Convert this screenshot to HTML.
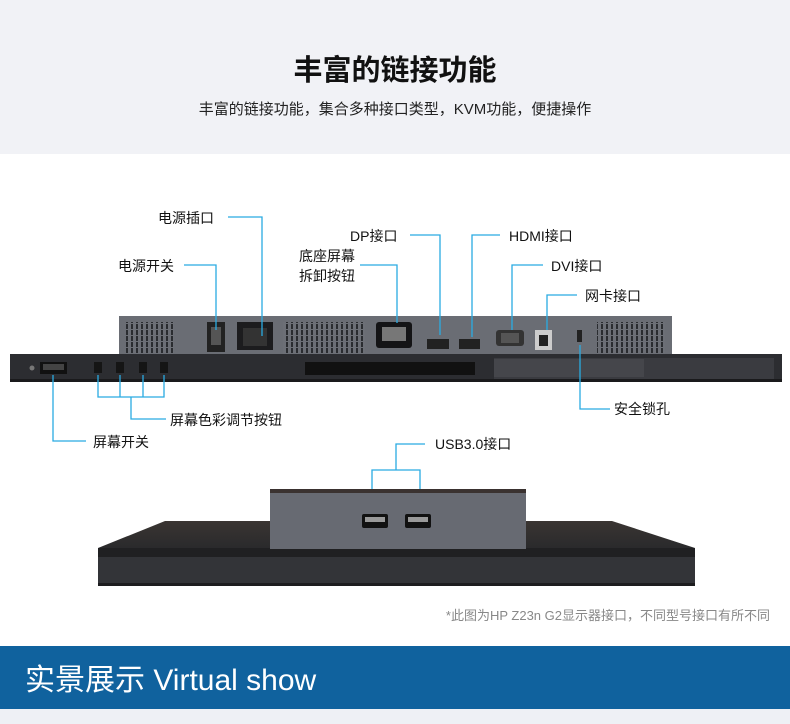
<!DOCTYPE html>
<html><head><meta charset="utf-8"><style>
html,body{margin:0;padding:0;background:#fff;}
body{width:790px;height:724px;overflow:hidden;position:relative;font-family:"Liberation Sans","Noto Sans CJK SC",sans-serif;}
</style></head><body>
<svg width="790" height="724" viewBox="0 0 790 724" xmlns="http://www.w3.org/2000/svg" style="position:absolute;left:0;top:0">
<defs>
<pattern id="vent" width="5" height="6" patternUnits="userSpaceOnUse"><rect width="5" height="6" fill="#6c6f76"/><rect x="1" y="0" width="2" height="5" fill="#2a2c30"/></pattern>
<linearGradient id="slab" x1="0" y1="0" x2="0" y2="1"><stop offset="0" stop-color="#3a3532"/><stop offset="1" stop-color="#2a2a2c"/></linearGradient>
</defs>
<rect x="0" y="0" width="790" height="154" fill="#f1f2f6"/>
<text x="395" y="80" text-anchor="middle" font-size="29" font-weight="bold" fill="#111">丰富的链接功能</text>
<text x="395" y="114" text-anchor="middle" font-size="15" fill="#222">丰富的链接功能，集合多种接口类型，KVM功能，便捷操作</text>

<!-- monitor 1 -->
<rect x="119" y="316" width="553" height="40" fill="#6a6d74"/>
<rect x="126" y="322" width="48" height="32" fill="url(#vent)"/>
<rect x="283" y="322" width="82" height="32" fill="url(#vent)"/>
<rect x="597" y="322" width="68" height="32" fill="url(#vent)"/>
<rect x="207" y="322" width="18" height="30" fill="#222"/><rect x="211" y="327" width="10" height="18" fill="#555"/>
<rect x="237" y="322" width="36" height="28" fill="#1c1c1e"/><rect x="243" y="328" width="24" height="18" fill="#333"/>
<rect x="376" y="322" width="36" height="26" rx="3" fill="#141416"/><rect x="382" y="327" width="24" height="14" fill="#777"/>
<rect x="427" y="339" width="22" height="10" fill="#222"/><rect x="459" y="339" width="21" height="10" fill="#222"/>
<rect x="496" y="330" width="28" height="16" rx="3" fill="#333"/><rect x="501" y="333" width="18" height="10" fill="#555"/>
<rect x="535" y="330" width="17" height="20" fill="#ccc"/><rect x="539" y="335" width="9" height="11" fill="#222"/>
<rect x="577" y="330" width="5" height="12" fill="#222"/>
<rect x="10" y="354" width="772" height="27" fill="#2c2d31"/>
<rect x="10" y="379" width="772" height="3" fill="#1a1a1c"/>
<rect x="40" y="362" width="27" height="12" fill="#111"/><rect x="43" y="364" width="21" height="6" fill="#444"/>
<circle cx="32" cy="368" r="2.5" fill="#777"/>
<rect x="94" y="362" width="8" height="11" fill="#151515"/><rect x="116" y="362" width="8" height="11" fill="#151515"/><rect x="139" y="362" width="8" height="11" fill="#151515"/><rect x="160" y="362" width="8" height="11" fill="#151515"/>
<rect x="305" y="362" width="170" height="13" fill="#111"/>
<rect x="494" y="358" width="280" height="21" fill="#3a3b40"/>
<rect x="494" y="359" width="150" height="18" fill="#45464b"/>

<!-- callouts -->
<g stroke="#29abe2" stroke-width="1.3" fill="none">
<polyline points="228,217 262,217 262,336"/>
<polyline points="184,265 216,265 216,330"/>
<polyline points="360,265 397,265 397,323"/>
<polyline points="410,235 440,235 440,335"/>
<polyline points="500,235 472,235 472,337"/>
<polyline points="543,265 512,265 512,330"/>
<polyline points="577,295 547,295 547,330"/>
<polyline points="580,345 580,409 610,409"/>
<polyline points="98,375 98,397 164,397 164,375"/><line x1="120" y1="375" x2="120" y2="397"/><line x1="143" y1="375" x2="143" y2="397"/>
<polyline points="131,397 131,419 166,419"/>
<polyline points="53,375 53,441 86,441"/>
<polyline points="425,444 396,444 396,470"/>
<polyline points="372,516 372,470 420,470 420,516"/>
</g>
<g font-size="14" fill="#111">
<text x="158" y="223">电源插口</text>
<text x="118" y="271">电源开关</text>
<text x="299" y="261">底座屏幕</text>
<text x="299" y="281">拆卸按钮</text>
<text x="350" y="241">DP接口</text>
<text x="509" y="241">HDMI接口</text>
<text x="551" y="271">DVI接口</text>
<text x="585" y="301">网卡接口</text>
<text x="614" y="414">安全锁孔</text>
<text x="170" y="425">屏幕色彩调节按钮</text>
<text x="93" y="447">屏幕开关</text>
<text x="435" y="449">USB3.0接口</text>
</g>

<!-- monitor 2 -->
<polygon points="98,548 165,521 612,521 695,548" fill="url(#slab)"/>
<rect x="98" y="548" width="597" height="10" fill="#202022"/>
<rect x="98" y="557" width="597" height="28" fill="#333438"/>
<rect x="98" y="583" width="597" height="3" fill="#1d1d1f"/>
<rect x="270" y="489" width="256" height="5" fill="#3a3230"/>
<rect x="270" y="493" width="256" height="56" fill="#676a72"/>
<rect x="362" y="514" width="26" height="14" rx="2" fill="#111"/><rect x="365" y="517" width="20" height="5" fill="#999"/>
<rect x="405" y="514" width="26" height="14" rx="2" fill="#111"/><rect x="408" y="517" width="20" height="5" fill="#999"/>

<text x="770" y="620" text-anchor="end" font-size="13" fill="#888">*此图为HP Z23n G2显示器接口，不同型号接口有所不同</text>

<rect x="0" y="646" width="790" height="63" fill="#10629e"/>
<rect x="0" y="709" width="790" height="15" fill="#eef0f5"/>
<text x="25" y="690" font-size="30" fill="#fff">实景展示 Virtual show</text>
</svg>
</body></html>
